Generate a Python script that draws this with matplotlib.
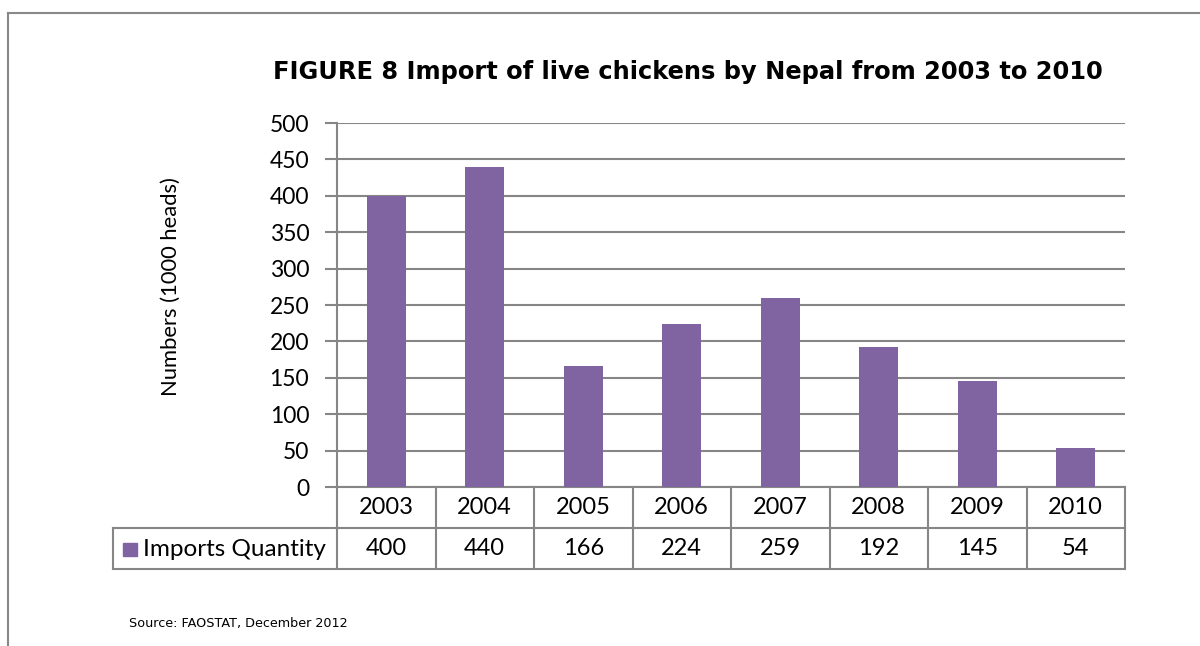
import matplotlib
matplotlib.use("Agg")
import matplotlib.pyplot as plt
from matplotlib.lines import Line2D
from matplotlib.patches import Rectangle

years = ["2003", "2004", "2005", "2006", "2007", "2008", "2009", "2010"]
imports = [400, 440, 166, 224, 259, 192, 145, 54]
series_name = "Imports Quantity"
yticks = [0, 50, 100, 150, 200, 250, 300, 350, 400, 450, 500]
title = "FIGURE 8 Import of live chickens by Nepal from 2003 to 2010"
ylabel = "Numbers (1000 heads)"
source = "Source: FAOSTAT, December 2012"

W, H = 1200, 646
fig = plt.figure(figsize=(W / 100, H / 100), dpi=100)
fig.patch.set_facecolor("white")

bar_color = "#8064A2"
grid_color = "#868686"
body_font = "Lato"
title_font = "DejaVu Sans"

def fx(px):
    return px / W

def fy(py):
    return 1 - py / H

ax_l, ax_r, ax_t, ax_b = 337, 1125, 123, 487
ax = fig.add_axes([fx(ax_l), fy(ax_b), (ax_r - ax_l) / W, (ax_b - ax_t) / H])

n = len(years)
xs = list(range(n))
ax.bar(xs, imports, width=0.4, color=bar_color, zorder=3)
ax.set_xlim(-0.5, n - 0.5)
ax.set_ylim(0, 500)
ax.set_yticks(yticks)
ax.set_yticklabels([str(t) for t in yticks], fontsize=16.5, family=body_font)
ax.set_xticks([])
ax.yaxis.grid(True, color=grid_color, linewidth=1.5, zorder=1)
for s in ["top", "right", "bottom"]:
    ax.spines[s].set_visible(False)
ax.spines["left"].set_color(grid_color)
ax.spines["left"].set_linewidth(1.5)
ax.tick_params(axis="y", length=9, width=1.5, color=grid_color, pad=11)

# data table below the plot (axes fraction coords)
ah = (ax_b - ax_t)
row = 41 / ah
leg_left = (113 - ax_l) / (ax_r - ax_l)
lw = 1.5
tr = ax.transAxes
def seg(x0, y0, x1, y1):
    ax.add_line(Line2D([x0, x1], [y0, y1], transform=tr, color=grid_color,
                       linewidth=lw, clip_on=False))

seg(0, 0, 1, 0)
seg(leg_left, -row, 1, -row)
seg(leg_left, -2 * row, 1, -2 * row)
seg(leg_left, -row, leg_left, -2 * row)
for i in range(n + 1):
    seg(i / n, 0, i / n, -2 * row)

for i, (yr, v) in enumerate(zip(years, imports)):
    cx = (i + 0.5) / n
    ax.text(cx, -0.5 * row, yr, transform=tr, ha="center", va="center",
            fontsize=17, family=body_font, clip_on=False)
    ax.text(cx, -1.5 * row, str(v), transform=tr, ha="center", va="center",
            fontsize=17, family=body_font, clip_on=False)

# legend key in table
fig.patches.append(Rectangle((fx(123), fy(556)), 14 / W, 13 / H,
                             transform=fig.transFigure, color=bar_color))
fig.text(fx(143), fy(549), series_name, ha="left", va="center",
         fontsize=17.5, family=body_font)

# y label
fig.text(fx(171), fy(287), ylabel, rotation=90, ha="center", va="center",
         fontsize=15.8, family=body_font)

# title
fig.text(fx(688), fy(72), title, ha="center", va="center", fontsize=17.4,
         fontweight="bold", family=title_font)

# source
fig.text(fx(129), fy(623), source, ha="left", va="center", fontsize=9.2,
         family=title_font)

# outer frame (top and left)
fig.lines.append(Line2D([fx(8), 1], [fy(13), fy(13)], transform=fig.transFigure,
                        color="#888888", linewidth=1.5))
fig.lines.append(Line2D([fx(8), fx(8)], [fy(13), 0], transform=fig.transFigure,
                        color="#888888", linewidth=1.5))

fig.savefig("out.png", dpi=100, facecolor="white")
